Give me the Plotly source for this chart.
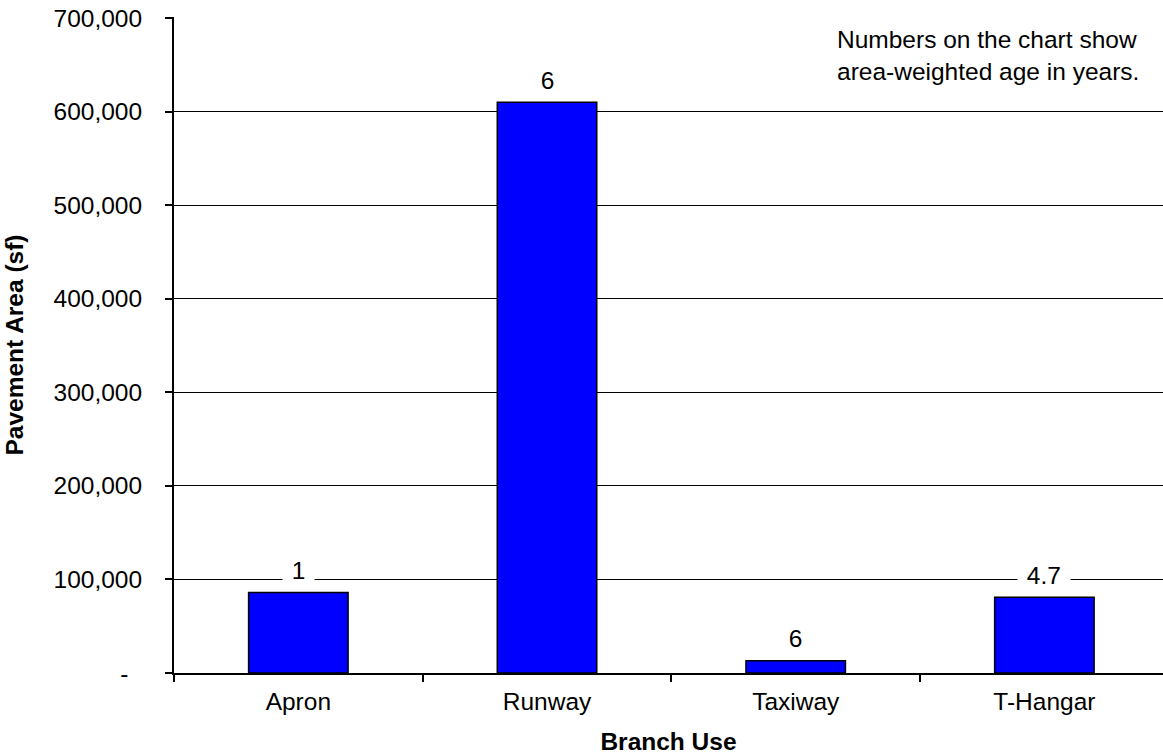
import plotly.graph_objects as go

categories = ["Apron", "Runway", "Taxiway", "T-Hangar"]
areas = [86000, 610000, 13000, 81000]
ages = ["1", "6", "6", "4.7"]
ytick_vals = [0, 100000, 200000, 300000, 400000, 500000, 600000, 700000]
ytick_text = ["-\u00a0\u00a0", "100,000", "200,000", "300,000", "400,000", "500,000", "600,000", "700,000"]

FONT = "Liberation Sans, Arial, sans-serif"
FS = 24.5
NB = "\u00a0"

fig = go.Figure()
fig.add_trace(go.Bar(
    x=categories, y=areas, width=0.4,
    marker=dict(color="#0000FF", line=dict(color="black", width=1.5)),
    hoverinfo="skip",
))

for c, a, t in zip(categories, areas, ages):
    fig.add_annotation(
        x=c, y=a, text=NB + t + NB, showarrow=False, yanchor="middle", yshift=22,
        font=dict(family=FONT, size=FS, color="black"),
        bgcolor="white", borderpad=2,
    )

fig.add_annotation(
    xref="paper", yref="paper", x=(835 - 174) / 989, y=1 - (7 / 656),
    xanchor="left", yanchor="top", align="left", showarrow=False,
    text="Numbers on the chart show<br>area-weighted age in years.",
    font=dict(family=FONT, size=FS, color="black"),
)

fig.update_layout(
    width=1163, height=755,
    margin=dict(l=174, r=0, t=17, b=82, autoexpand=False),
    paper_bgcolor="white", plot_bgcolor="white",
    showlegend=False,
    font=dict(family=FONT, size=FS, color="black"),
    xaxis=dict(
        range=[-0.5, 3.477], tickson="boundaries", ticks="outside", ticklen=7,
        tickcolor="black", tickwidth=1.5, showgrid=False, automargin=False,
        showline=True, linecolor="black", linewidth=2,
        tickfont=dict(family=FONT, size=FS), ticklabelstandoff=6,
        title=dict(text="<b>Branch Use</b>", font=dict(family=FONT, size=FS), standoff=18),
    ),
    yaxis=dict(
        range=[0, 701000], tickvals=ytick_vals, ticktext=ytick_text,
        ticks="outside", ticklen=7, tickcolor="black", tickwidth=1.5,
        showgrid=True, gridcolor="black", gridwidth=1, automargin=False,
        showline=True, linecolor="black", linewidth=2,
        zeroline=False, ticklabelstandoff=18, ticklabeloverflow="allow",
        tickfont=dict(family=FONT, size=FS),
        title=dict(text="<b>Pavement Area (sf)</b>", font=dict(family=FONT, size=FS), standoff=23),
    ),
)

fig.write_html("out.html", config={"displayModeBar": False},
               post_script="document.body.style.margin='0';")
